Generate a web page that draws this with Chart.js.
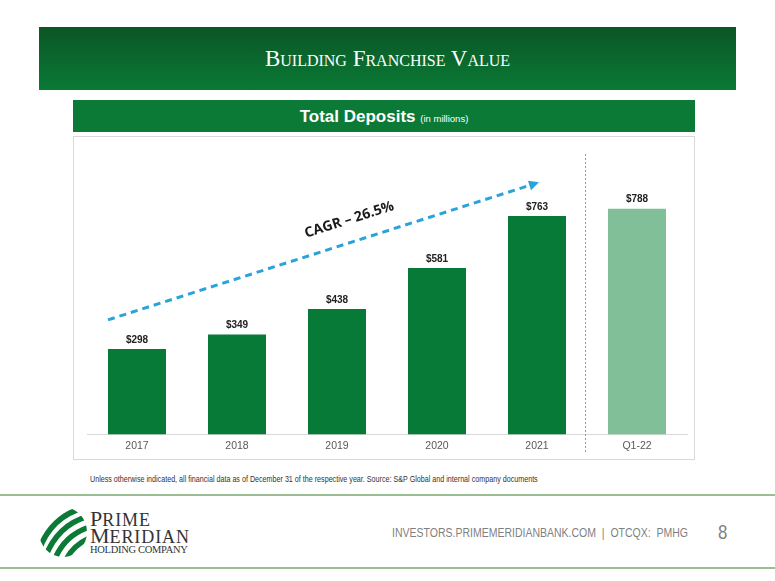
<!DOCTYPE html>
<html lang="en">
<head>
  <meta charset="UTF-8">
  <title>Building Franchise Value</title>
  <script src="https://cdn.jsdelivr.net/npm/chart.js"></script>
  <style>
    body {
      margin: 0;
      width: 775px;
      height: 581px;
      position: relative;
      background: #fff;
      font-family: "Liberation Sans", Arial, sans-serif;
      overflow: hidden;
    }
    .banner {
      position: absolute;
      left: 39px; top: 27px;
      width: 697px; height: 63px;
      background: linear-gradient(#0b5525, #0a7a36);
      color: #fff;
      text-align: center;
      line-height: 64px;
      font-family: "Liberation Serif", "DejaVu Serif", serif;
      font-variant: small-caps;
      font-size: 23px;
    }
    .subbar {
      position: absolute;
      left: 73px; top: 100px;
      width: 622px; height: 32px;
      background: #0b7a36;
      color: #fff;
      text-align: center;
      line-height: 33px;
      font-weight: bold;
      font-size: 17px;
    }
    .subbar small {
      font-weight: normal;
      font-size: 9.5px;
    }
    #box {
      position: absolute;
      left: 73px; top: 136px;
      width: 620px; height: 322px;
      border: 1px solid #d9d9d9;
    }
    #box canvas { position: absolute; left: 0; top: 0; }
    .note {
      position: absolute;
      left: 90px; top: 474px;
      font-size: 9px;
      color: #333;
      white-space: nowrap;
      transform: scaleX(0.795);
      transform-origin: left top;
    }
    .rule {
      position: absolute;
      left: 0; width: 775px; height: 2px;
      background: #9bbd93;
    }
    .logo {
      position: absolute;
      left: 37px; top: 506px;
    }
    .brand {
      position: absolute;
      left: 90px; top: 508px;
      font-family: "Liberation Serif", "DejaVu Serif", serif;
      color: #333;
      line-height: 1;
    }
    .brand .big { font-size: 22px; height: 17px; }
    .brand .big span { font-size: 18px; letter-spacing: 0.9px; }
    .brand .sm { font-size: 10.5px; letter-spacing: -0.3px; margin-top: 3px; }
    .site {
      position: absolute;
      left: 392px; top: 526px;
      font-size: 12.5px;
      color: #7f7f7f;
      white-space: nowrap;
      transform: scaleX(0.84);
      transform-origin: left top;
    }
    .page {
      position: absolute;
      left: 718px; top: 520px;
      font-size: 21px;
      color: #7f7f7f;
      transform: scaleX(0.8);
      transform-origin: left top;
    }
  </style>
</head>
<body>
  <div class="banner">Building Franchise Value</div>
  <div class="subbar">Total Deposits <small>(in millions)</small></div>
  <div id="box"><canvas id="depositsChart" width="620" height="320"></canvas></div>
  <div class="note">Unless otherwise indicated, all financial data as of December 31 of the respective year. Source: S&amp;P Global and internal company documents</div>

  <div class="rule" style="top: 494px"></div>
  <div class="rule" style="top: 567px"></div>
  <svg class="logo" width="52" height="52" viewBox="0 0 52 52">
    <defs><clipPath id="c"><ellipse cx="26" cy="26" rx="24" ry="25"/></clipPath></defs>
    <g clip-path="url(#c)" fill="none" stroke="#0b7a36" stroke-width="5.5">
      <path d="M2 44 C10 22 24 8 46 2"/>
      <path d="M8 52 C16 30 30 16 52 10"/>
      <path d="M16 58 C22 40 34 26 56 20"/>
      <path d="M26 62 C30 48 40 36 58 30"/>
    </g>
  </svg>
  <div class="brand">
    <div class="big">P<span>RIME</span></div>
    <div class="big">M<span>ERIDIAN</span></div>
    <div class="sm">HOLDING COMPANY</div>
  </div>
  <div class="site">INVESTORS.PRIMEMERIDIANBANK.COM &nbsp;| &nbsp;OTCQX:&nbsp; PMHG</div>
  <div class="page">8</div>

  <script>
    const categories = ['2017', '2018', '2019', '2020', '2021', 'Q1-22'];
    const deposits = [298, 349, 438, 581, 763, 788];

    // CAGR arrow, in (category index, $m) units
    const cagrText = 'CAGR \u2013 26.5%';
    const cagrFrom = [-0.29, 400];
    const cagrTo = [4.02, 880];

    const DARK = '#087a37';
    const LIGHT = '#80bf97';

    const valueLabels = {
      id: 'valueLabels',
      afterDatasetsDraw(chart) {
        const ctx = chart.ctx;
        const meta = chart.getDatasetMeta(0);
        ctx.save();
        ctx.font = 'bold 10px "Liberation Sans", Arial';
        ctx.fillStyle = '#222';
        ctx.textAlign = 'center';
        ctx.textBaseline = 'bottom';
        meta.data.forEach((bar, i) => {
          ctx.fillText('$' + deposits[i], bar.x, bar.y - 4);
        });
        ctx.restore();
      }
    };

    const extras = {
      id: 'extras',
      afterDraw(chart) {
        const ctx = chart.ctx;
        const x = chart.scales.x, y = chart.scales.y;
        const area = chart.chartArea;

        // divider between full years and the quarter
        const dx = Math.round(x.getPixelForValue(4.5)) - 1.5;
        ctx.save();
        ctx.strokeStyle = '#9a9a9a';
        ctx.lineWidth = 1;
        ctx.setLineDash([2, 2]);
        ctx.beginPath();
        ctx.moveTo(dx, area.top + 6);
        ctx.lineTo(dx, area.bottom + 18);
        ctx.stroke();
        ctx.restore();

        // CAGR arrow
        const x1 = x.getPixelForValue(cagrFrom[0]), y1 = y.getPixelForValue(cagrFrom[1]);
        const x2 = x.getPixelForValue(cagrTo[0]), y2 = y.getPixelForValue(cagrTo[1]);
        const ang = Math.atan2(y2 - y1, x2 - x1);
        const head = 9;
        ctx.save();
        ctx.strokeStyle = '#29a3da';
        ctx.fillStyle = '#29a3da';
        ctx.lineWidth = 3;
        ctx.setLineDash([7, 5]);
        ctx.beginPath();
        ctx.moveTo(x1, y1);
        ctx.lineTo(x2 - head * Math.cos(ang), y2 - head * Math.sin(ang));
        ctx.stroke();
        ctx.setLineDash([]);
        ctx.translate(x2, y2);
        ctx.rotate(ang);
        ctx.beginPath();
        ctx.moveTo(0, 0);
        ctx.lineTo(-head - 1, -5);
        ctx.lineTo(-head - 1, 5);
        ctx.closePath();
        ctx.fill();
        ctx.restore();

        // label above the arrow
        const t = 0.56;
        const mx = x1 + t * (x2 - x1), my = y1 + t * (y2 - y1) - 23;
        ctx.save();
        ctx.translate(mx, my);
        ctx.rotate(ang);
        ctx.font = 'bold 14px "Open Sans", Arial';
        ctx.fillStyle = '#1a1a1a';
        ctx.textAlign = 'center';
        ctx.textBaseline = 'middle';
        ctx.fillText(cagrText, 0, 0);
        ctx.restore();
      }
    };

    new Chart(document.getElementById('depositsChart'), {
      type: 'bar',
      data: {
        labels: categories,
        datasets: [{
          data: deposits,
          backgroundColor: c => categories[c.dataIndex].startsWith('Q') ? LIGHT : DARK,
          categoryPercentage: 1,
          barPercentage: 0.58
        }]
      },
      options: {
        responsive: false,
        animation: false,
        layout: { padding: { top: 11, left: 13, right: 7, bottom: 0 } },
        plugins: { legend: { display: false }, tooltip: { enabled: false } },
        scales: {
          x: {
            grid: { display: false, drawTicks: false },
            border: { display: true, color: '#d9d9d9' },
            ticks: {
              padding: 5,
              color: '#595959',
              font: { family: '"Liberation Sans", Arial', size: 10.5 }
            }
          },
          y: {
            display: false,
            min: 0,
            max: 1000
          }
        }
      },
      plugins: [valueLabels, extras]
    });
  </script>
</body>
</html>
